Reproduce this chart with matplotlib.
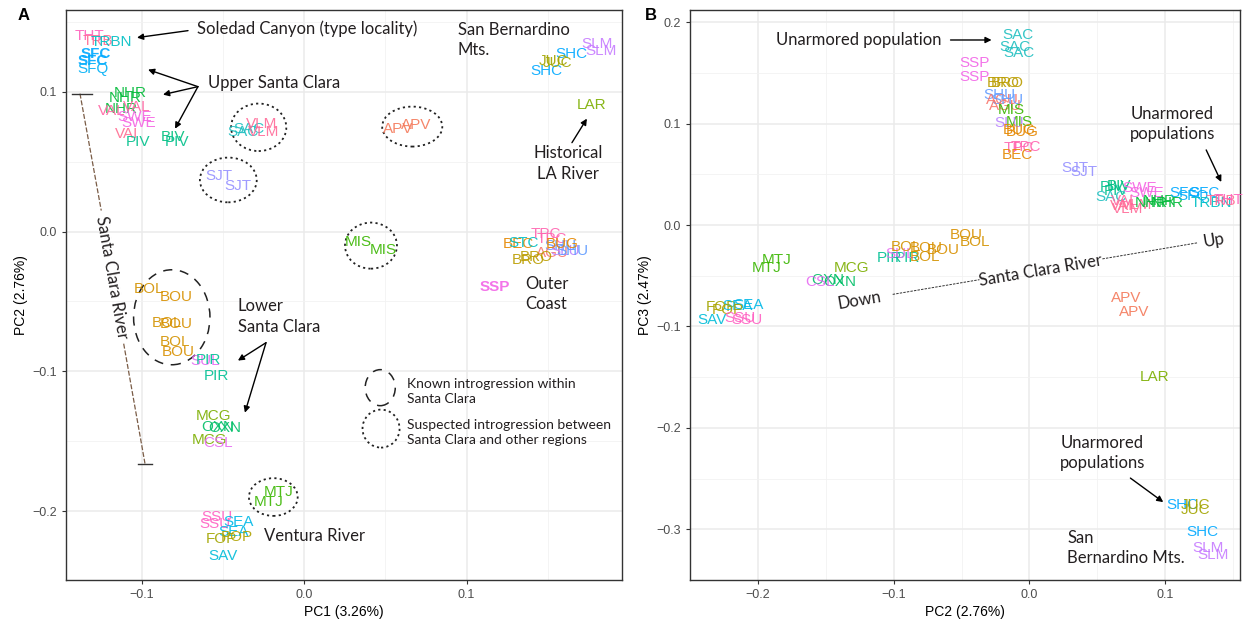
import matplotlib.pyplot as plt
from matplotlib.patches import Ellipse

plt.rcParams['font.family'] = ['Liberation Sans', 'DejaVu Sans']
NOTE_FONT = ['Lato', 'DejaVu Sans']

# population colours (ggplot hue style)
pop_colors = {
    'THT': '#FF62BC', 'TRB': '#FF6C91', 'TRBN': '#00BFC4', 'SFC': '#00A9FF',
    'SFQ': '#00B0F6', 'NHR': '#00BA38', 'VAL': '#FF67A4', 'VAI': '#FF6C91',
    'SWE': '#F564E3', 'PIV': '#00C08B', 'BIV': '#00BF7D', 'SAC': '#1FBFC0',
    'VLM': '#FF6A98', 'SJT': '#9590FF', 'APV': '#F4795A', 'MIS': '#39B600',
    'BOL': '#D39200', 'BOU': '#D89000', 'PIR': '#00C094', 'SUL': '#E76BF3',
    'MCG': '#7CAE00', 'OXN': '#00BE67', 'CSL': '#E76BF3', 'MTJ': '#39B600',
    'SSU': '#FF61C3', 'SEA': '#00B8E7', 'FOP': '#A3A500', 'POP': '#B0A200',
    'SAV': '#00BCD8', 'SHC': '#00A9FF', 'JUC': '#A3A500', 'SLM': '#C77CFF',
    'LAR': '#7CAE00', 'SSP': '#F265E7', 'BEC': '#E58700', 'BRO': '#BB9D00',
    'TPC': '#FF64B0', 'SHU': '#619CFF', 'AGU': '#F8766D', 'SLU': '#B983FF',
    'BUG': '#E58700', 'STC': '#00BFC4',
}

# panel A: PC1 vs PC2
a_labels = ['THT', 'TRB', 'TRBN', 'SFC', 'SFC', 'SFQ', 'NHR', 'NHR', 'NHR', 'VAL', 'VAL',
            'SWE', 'SWE', 'VAI', 'PIV', 'BIV', 'PIV', 'SAC', 'SAC', 'VLM', 'VLM',
            'SJT', 'SJT', 'APV', 'APV', 'MIS', 'MIS',
            'BOL', 'BOU', 'BOL', 'BOU', 'BOL', 'BOU', 'SUL', 'PIR', 'PIR',
            'MCG', 'OXN', 'OXN', 'MCG', 'CSL', 'MTJ', 'MTJ',
            'SSU', 'SSU', 'SEA', 'SEA', 'FOP', 'POP', 'SAV',
            'SHC', 'SHC', 'JUC', 'JUC', 'SLM', 'SLM', 'LAR',
            'BEC', 'STC', 'TPC', 'TPC', 'SHU', 'AGU', 'SLU', 'SHU', 'BUG', 'BRO', 'BRO',
            'SSP']
a_pc1 = [-0.1324, -0.1267, -0.1185, -0.1280, -0.1300, -0.1300, -0.1072, -0.1100, -0.1123, -0.1030, -0.1185,
         -0.1020, -0.1045, -0.1092, -0.1020, -0.0806, -0.0785, -0.0375, -0.0340, -0.0260, -0.0250,
         -0.0522, -0.0405, 0.0577, 0.0688, 0.0331, 0.0485,
         -0.0953, -0.0785, -0.0846, -0.0785, -0.0795, -0.0775, -0.0610, -0.0590, -0.0539,
         -0.0560, -0.0529, -0.0487, -0.0580, -0.0529, -0.0159, -0.0221,
         -0.0539, -0.0550, -0.0405, -0.0436, -0.0508, -0.0415, -0.0498,
         0.1646, 0.1492, 0.1533, 0.1560, 0.1800, 0.1830, 0.1769,
         0.1316, 0.1353, 0.1488, 0.1525, 0.1574, 0.1525, 0.1605, 0.1648, 0.1586, 0.1377, 0.1426,
         0.1174]
a_pc2 = [0.1400, 0.1367, 0.1360, 0.1270, 0.1220, 0.1165, 0.0990, 0.0960, 0.0878, 0.0890, 0.0866,
         0.0780, 0.0820, 0.0700, 0.0640, 0.0675, 0.0640, 0.0710, 0.0735, 0.0770, 0.0710,
         0.0400, 0.0330, 0.0737, 0.0766, -0.0072, -0.0129,
         -0.0410, -0.0465, -0.0656, -0.0660, -0.0792, -0.0864, -0.0928, -0.0918, -0.1036,
         -0.1317, -0.1400, -0.1405, -0.1490, -0.1515, -0.1866, -0.1938,
         -0.2045, -0.2093, -0.2080, -0.2152, -0.2200, -0.2188, -0.2319,
         0.1272, 0.1152, 0.1224, 0.1210, 0.1344, 0.1296, 0.0909,
         -0.0086, -0.0079, -0.0014, -0.0050, -0.0100, -0.0150, -0.0136, -0.0136, -0.0086, -0.0200, -0.0179,
         -0.0399]
a_bold = ['SFC', 'SSP']

# panel B: PC2 vs PC3
b_labels = ['SAC', 'SAC', 'SAC', 'SSP', 'SSP', 'BRO', 'BRO', 'SHU', 'AGU', 'SHU', 'AGU',
            'MIS', 'MIS', 'SLU', 'BUG', 'BUG', 'TPC', 'TPC', 'BEC', 'SJT', 'SJT',
            'PIV', 'BIV', 'PIV', 'SAC', 'SWE', 'SWE', 'VAL', 'VAI', 'VLM', 'VLM',
            'NHR', 'NHR', 'NHR', 'SFC', 'SFQ', 'SFC', 'TRBN', 'TRB', 'THT',
            'MTJ', 'MTJ', 'MCG', 'OXN', 'OXN', 'CSL', 'PIR', 'PIR', 'SUL',
            'BOL', 'BOU', 'BOL', 'BOU', 'BOU', 'BOL',
            'FOP', 'SEA', 'SEA', 'POP', 'SAV', 'SSU', 'SSU',
            'APV', 'APV', 'LAR', 'SHC', 'JUC', 'JUC', 'SHC', 'SLM', 'SLM']
b_pc2 = [-0.0086, -0.0110, -0.0074, -0.0404, -0.0404, -0.0196, -0.0160, -0.0220, -0.0196, -0.0160, -0.0180,
         -0.0135, -0.0074, -0.0147, -0.0074, -0.0050, -0.0024, -0.0080, -0.0086, 0.0331, 0.0404,
         0.0610, 0.0662, 0.0640, 0.0603, 0.0809, 0.0860, 0.0699, 0.0676, 0.0721, 0.0787,
         0.0897, 0.0956, 0.1015, 0.1140, 0.1206, 0.1287, 0.1338, 0.1412, 0.1463,
         -0.1863, -0.1936, -0.1311, -0.1397, -0.1483, -0.1544, -0.1029, -0.0895, -0.0950,
         -0.0907, -0.0760, -0.0772, -0.0637, -0.0465, -0.0404,
         -0.2267, -0.2071, -0.2150, -0.2220, -0.2340, -0.2083, -0.2130,
         0.0711, 0.0772, 0.0919, 0.1127, 0.1225, 0.1225, 0.1275, 0.1311, 0.1348]
b_pc3 = [0.1874, 0.1758, 0.1693, 0.1595, 0.1463, 0.1397, 0.1397, 0.1280, 0.1233, 0.1233, 0.1170,
         0.1134, 0.1019, 0.1003, 0.0937, 0.0920, 0.0772, 0.0760, 0.0690, 0.0559, 0.0526,
         0.0375, 0.0385, 0.0335, 0.0276, 0.0365, 0.0316, 0.0237, 0.0187, 0.0158, 0.0197,
         0.0217, 0.0237, 0.0217, 0.0316, 0.0286, 0.0316, 0.0217, 0.0237, 0.0247,
         -0.0345, -0.0427, -0.0427, -0.0559, -0.0542, -0.0559, -0.0329, -0.0329, -0.0290,
         -0.0214, -0.0230, -0.0313, -0.0247, -0.0099, -0.0165,
         -0.0806, -0.0789, -0.0800, -0.0840, -0.0937, -0.0937, -0.0920,
         -0.0723, -0.0855, -0.1496, -0.2761, -0.2761, -0.2811, -0.3025, -0.3188, -0.3254]


def style_axes(ax, xticks, yticks):
    ax.set_facecolor('white')
    ax.set_xticks(xticks)
    ax.set_yticks(yticks)
    ax.set_xticks([(a + b) / 2 for a, b in zip(xticks[:-1], xticks[1:])]
                  + [xticks[0] - 0.05, xticks[-1] + 0.05], minor=True)
    ax.set_yticks([(a + b) / 2 for a, b in zip(yticks[:-1], yticks[1:])]
                  + [yticks[0] - 0.05, yticks[-1] + 0.05], minor=True)
    ax.grid(which='major', color='#EBEBEB', lw=1.1)
    ax.grid(which='minor', color='#F2F2F2', lw=0.6)
    ax.set_axisbelow(True)
    for s in ax.spines.values():
        s.set_color('#333333')
        s.set_linewidth(1.0)
    ax.tick_params(which='major', length=3, color='#333333', labelsize=9, labelcolor='#4D4D4D')
    ax.tick_params(which='minor', length=0)


def draw_labels(ax, labels, xs, ys, bold=()):
    for lab, x, y in zip(labels, xs, ys):
        ax.text(x, y, lab, color=pop_colors[lab], fontsize=11, ha='center', va='center',
                fontweight='bold' if lab in bold else 'normal', alpha=0.9)


def note(ax, x, y, s, ha='left', size=12, **kw):
    ax.text(x, y, s, ha=ha, va='center', fontsize=size, family=NOTE_FONT,
            color='#231F20', linespacing=1.33, **kw)


def arrow(ax, start, end):
    ax.annotate('', xy=end, xytext=start,
                arrowprops=dict(arrowstyle='-|>', color='black', lw=1.0, mutation_scale=9,
                                shrinkA=0, shrinkB=0))


fig = plt.figure(figsize=(12.43, 6.23), dpi=100)
ax_a = fig.add_axes([0.0531, 0.069, 0.4473, 0.915])
ax_b = fig.add_axes([0.555, 0.069, 0.4426, 0.915])

# ---- panel A ----
style_axes(ax_a, [-0.1, 0.0, 0.1], [-0.2, -0.1, 0.0, 0.1])
ax_a.set_xlim(-0.1466, 0.1956)
ax_a.set_ylim(-0.2494, 0.1587)
draw_labels(ax_a, a_labels, a_pc1, a_pc2, bold=a_bold)
ax_a.set_xlabel('PC1 (3.26%)', fontsize=10, labelpad=3)
ax_a.set_ylabel('PC2 (2.76%)', fontsize=10, labelpad=3)

# introgression circles
for cx, cy, w, h in [(-0.028, 0.0747, 0.034, 0.034), (-0.0467, 0.037, 0.035, 0.032),
                     (0.0665, 0.0752, 0.037, 0.0286), (0.0411, -0.010, 0.032, 0.033),
                     (-0.019, -0.190, 0.030, 0.027), (0.0473, -0.141, 0.0228, 0.0272)]:
    ax_a.add_patch(Ellipse((cx, cy), w, h, fill=False, ec='#222222', lw=1.3, ls=(0, (1.2, 1.8))))
for cx, cy, w, h in [(-0.0815, -0.0613, 0.047, 0.068), (0.0468, -0.1117, 0.0185, 0.0258)]:
    ax_a.add_patch(Ellipse((cx, cy), w, h, fill=False, ec='#222222', lw=1.1, ls=(0, (6, 5))))

note(ax_a, 0.0632, -0.1145, 'Known introgression within\nSanta Clara', size=10)
note(ax_a, 0.0632, -0.1439, 'Suspected introgression between\nSanta Clara and other regions', size=10)

note(ax_a, -0.0658, 0.1453, 'Soledad Canyon (type locality)')
arrow(ax_a, (-0.0715, 0.1439), (-0.1029, 0.1389))
note(ax_a, -0.0592, 0.1067, 'Upper Santa Clara')
for end in [(-0.0961, 0.116), (-0.0869, 0.0981), (-0.0795, 0.0737)]:
    arrow(ax_a, (-0.0654, 0.1038), end)
note(ax_a, 0.0946, 0.1374, 'San Bernardino\nMts.')
note(ax_a, 0.1623, 0.0487, 'Historical\nLA River', ha='center')
arrow(ax_a, (0.1648, 0.0637), (0.174, 0.0809))
note(ax_a, 0.1359, -0.0444, 'Outer\nCoast')
note(ax_a, -0.0408, -0.0608, 'Lower\nSanta Clara')
arrow(ax_a, (-0.0235, -0.0795), (-0.0408, -0.0923))
arrow(ax_a, (-0.0235, -0.0795), (-0.0365, -0.1296))
note(ax_a, -0.0247, -0.2176, 'Ventura River')

# Santa Clara River gradient line
ax_a.plot([-0.1380, -0.1249], [0.0988, 0.0151], color='#7A5C46', lw=0.9, ls=(0, (4, 1.5)))
ax_a.plot([-0.1111, -0.0980], [-0.0802, -0.1660], color='#7A5C46', lw=0.9, ls=(0, (4, 1.5)))
ax_a.plot([-0.1429, -0.1306], [0.0988, 0.0988], color='#333333', lw=1.0)
ax_a.plot([-0.1023, -0.0937], [-0.1660, -0.1660], color='#333333', lw=1.0)
ax_a.text(-0.1182, -0.0327, 'Santa Clara River', rotation=-80, ha='center', va='center',
          fontsize=12, family=NOTE_FONT, color='#231F20', rotation_mode='anchor')

# ---- panel B ----
style_axes(ax_b, [-0.2, -0.1, 0.0, 0.1], [-0.3, -0.2, -0.1, 0.0, 0.1, 0.2])
ax_b.set_xlim(-0.25, 0.155)
ax_b.set_ylim(-0.35, 0.212)
draw_labels(ax_b, b_labels, b_pc2, b_pc3)
ax_b.set_xlabel('PC2 (2.76%)', fontsize=10, labelpad=3)
ax_b.set_ylabel('PC3 (2.47%)', fontsize=10, labelpad=3)

note(ax_b, -0.1868, 0.1824, 'Unarmored population')
arrow(ax_b, (-0.0581, 0.1824), (-0.0279, 0.1824))
note(ax_b, 0.1051, 0.0996, 'Unarmored\npopulations', ha='center')
arrow(ax_b, (0.1301, 0.074), (0.1412, 0.0424))
note(ax_b, 0.0537, -0.2249, 'Unarmored\npopulations', ha='center')
arrow(ax_b, (0.0743, -0.2495), (0.0985, -0.2732))
note(ax_b, 0.0279, -0.3185, 'San\nBernardino Mts.')

# downstream -> upstream axis along the Santa Clara
ax_b.plot([-0.1007, -0.0368], [-0.0684, -0.0539], color='#333333', lw=0.7, ls=(0, (2.5, 1.2)))
ax_b.plot([0.0537, 0.1235], [-0.0334, -0.0176], color='#333333', lw=0.7, ls=(0, (2.5, 1.2)))
for x, y, s in [(-0.125, -0.074, 'Down'), (0.008, -0.0454, 'Santa Clara River'), (0.136, -0.0148, 'Up')]:
    ax_b.text(x, y, s, rotation=9.6, ha='center', va='center', fontsize=12, family=NOTE_FONT,
              color='#231F20', rotation_mode='anchor')

fig.text(0.0145, 0.975, 'A', fontsize=12, fontweight='bold', va='center')
fig.text(0.519, 0.975, 'B', fontsize=12, fontweight='bold', va='center')

fig.savefig('out.png', dpi=100, facecolor='white')
